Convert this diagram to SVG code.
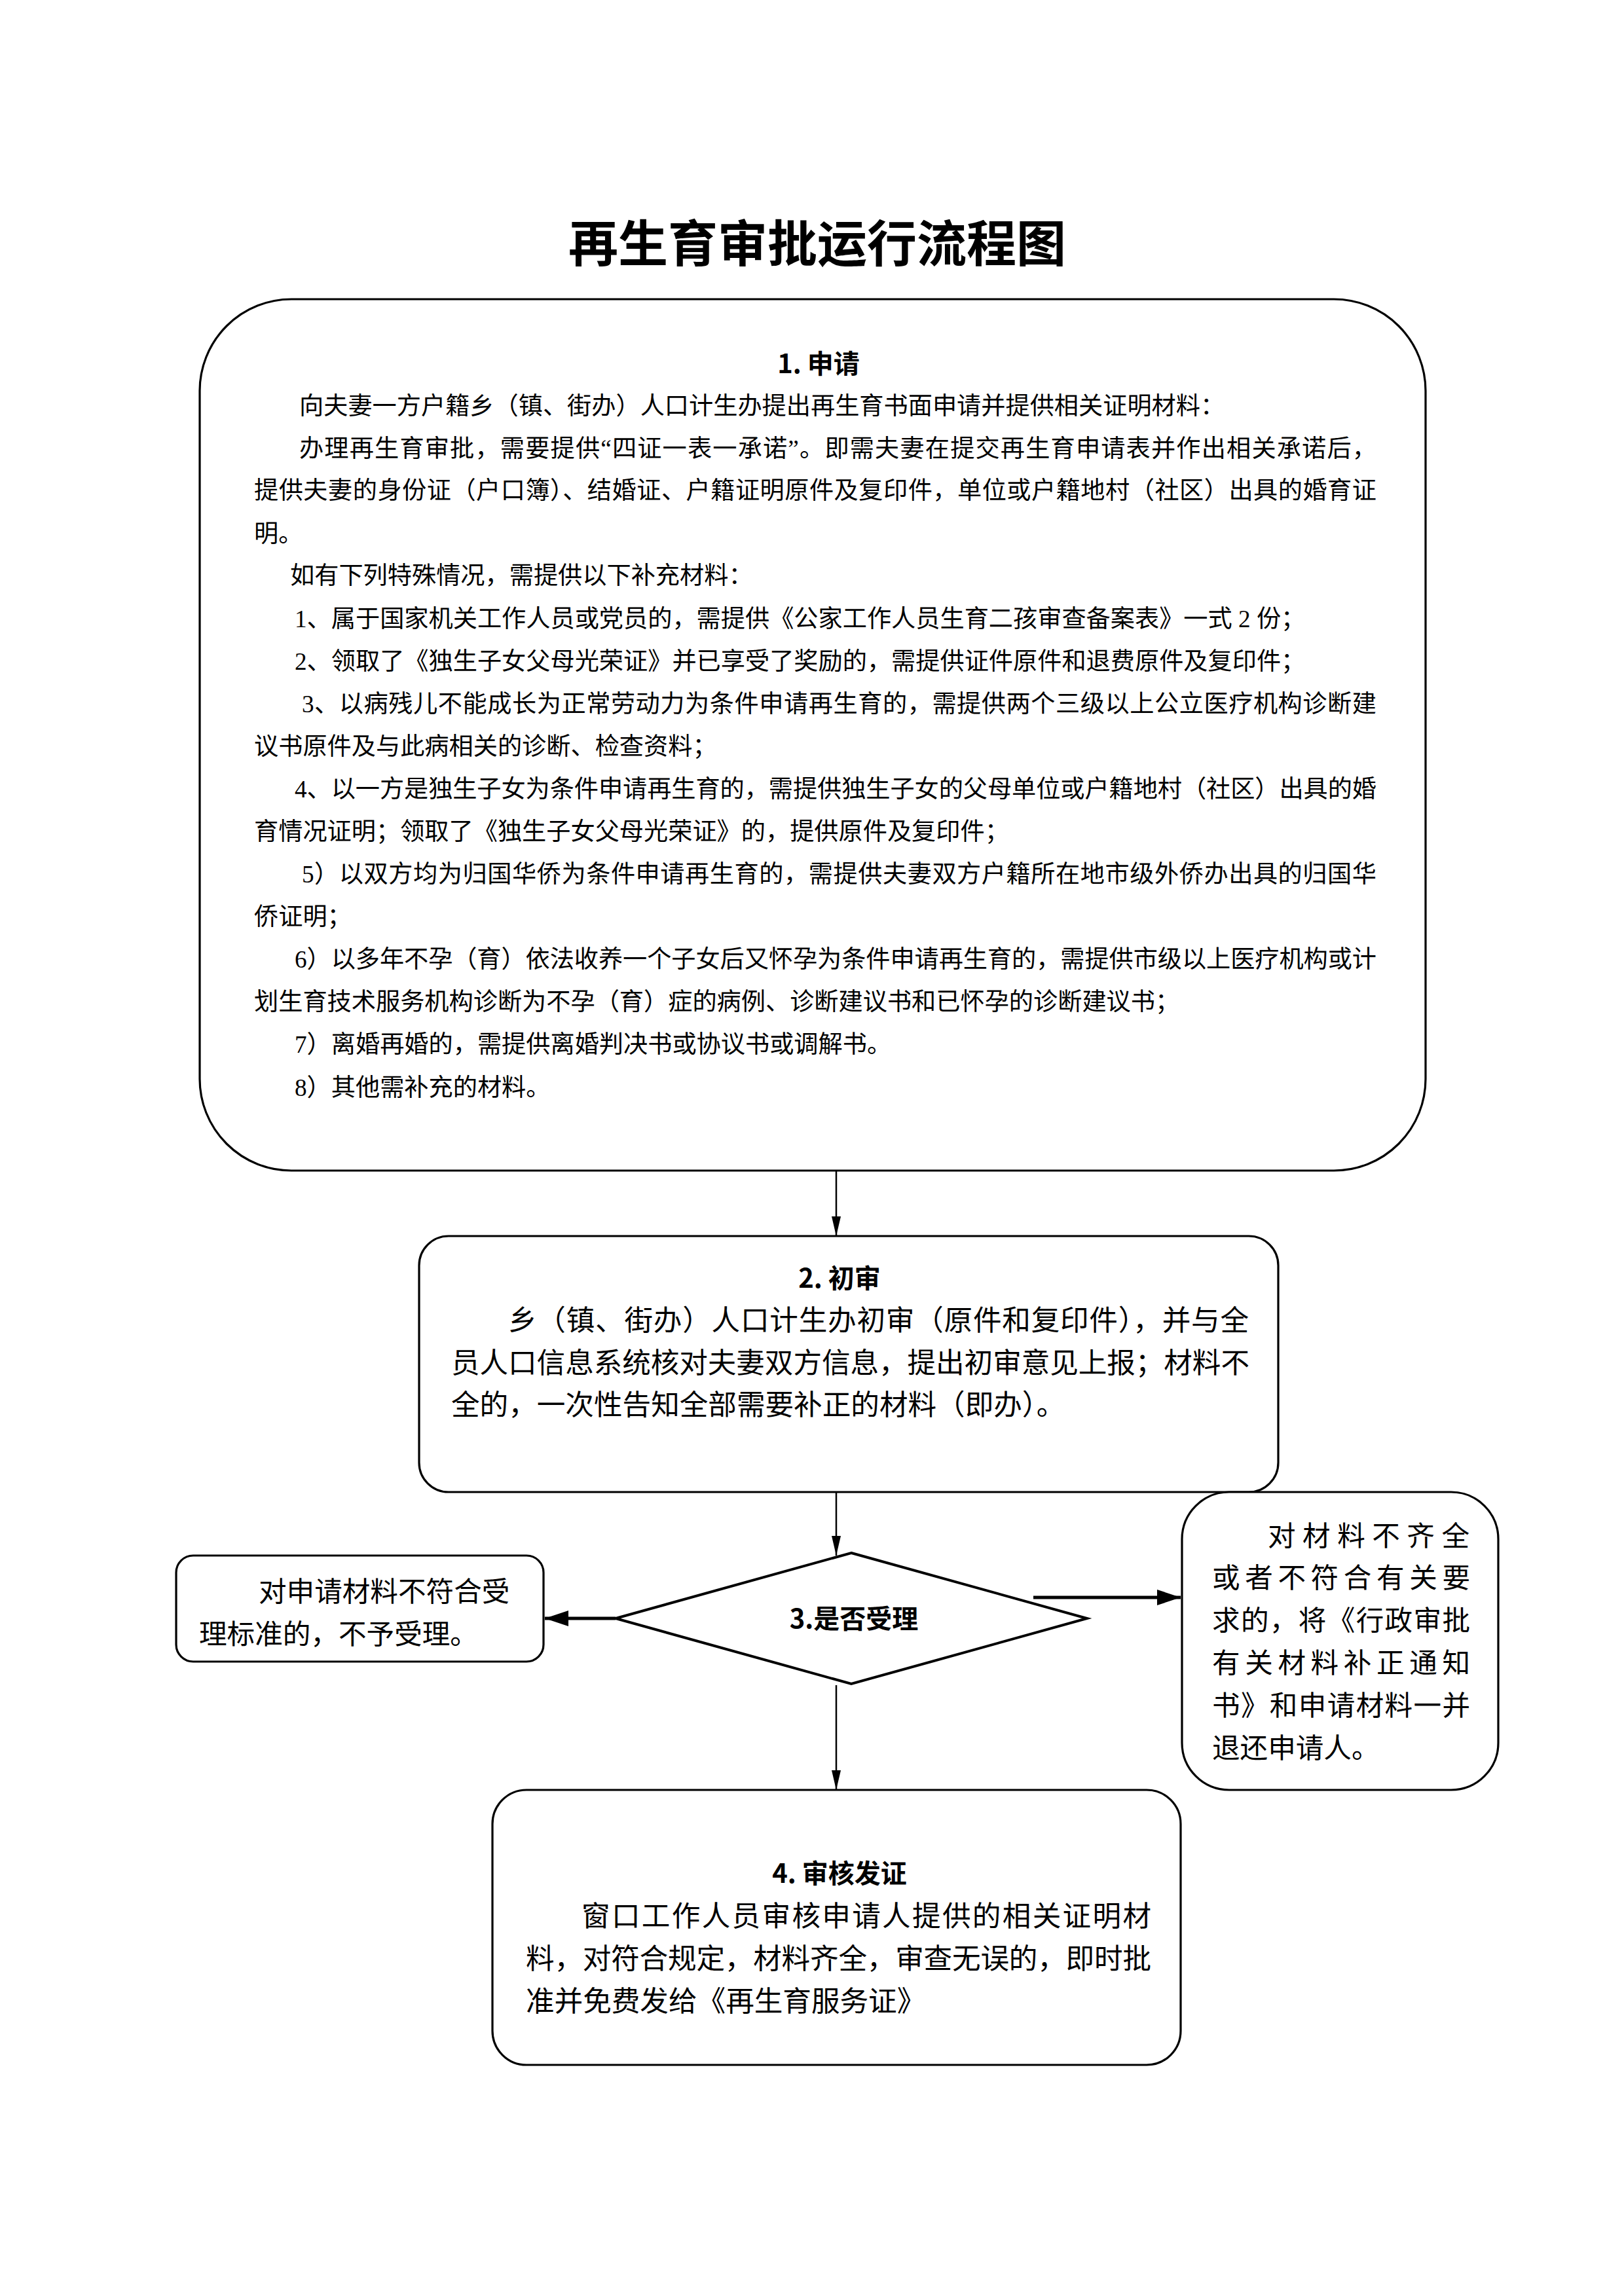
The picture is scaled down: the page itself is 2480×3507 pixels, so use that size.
<svg xmlns="http://www.w3.org/2000/svg" width="2480" height="3507" viewBox="0 0 2480 3507">
<defs>
<style>
.box{fill:#fff;stroke:#000;stroke-width:3.2}
.ln{fill:none;stroke:#000;stroke-width:2.5}
.lnb{fill:none;stroke:#000;stroke-width:5}
.t{font-family:"Liberation Serif","Noto Sans CJK SC",serif;font-size:37.2px;fill:#000}
.m{font-family:"Liberation Serif","Noto Sans CJK SC",serif;font-size:43.6px;fill:#000}
.s{font-family:"Liberation Serif","Noto Sans CJK SC",serif;font-size:42.6px;fill:#000}
.h{font-family:"Noto Sans CJK SC",sans-serif;font-weight:bold;font-size:40px;text-anchor:middle;fill:#000}
.title{font-family:"Noto Sans CJK SC",sans-serif;font-weight:bold;font-size:76px;text-anchor:middle;fill:#000}
</style>
<marker id="arr" viewBox="0 0 30 14" refX="30" refY="7" markerWidth="30" markerHeight="14" markerUnits="userSpaceOnUse" orient="auto">
<path d="M0,0 L30,7 L0,14 Z" fill="#000"/>
</marker>
<marker id="arrb" viewBox="0 0 36 24" refX="36" refY="12" markerWidth="36" markerHeight="24" markerUnits="userSpaceOnUse" orient="auto">
<path d="M0,0 L36,12 L0,24 Z" fill="#000"/>
</marker>
</defs>
<rect x="0" y="0" width="2480" height="3507" fill="#fff"/>

<text id="title" class="title" x="1248" y="400">再生育审批运行流程图</text>

<g id="connectors">
<path class="ln" d="M1277 1788 V1888" marker-end="url(#arr)"/>
<path class="ln" d="M1277 2279 V2376" marker-end="url(#arr)"/>
<path class="ln" d="M1277 2574 V2734" marker-end="url(#arr)"/>
<path class="lnb" d="M940 2472 H832" marker-end="url(#arrb)"/>
<path class="lnb" d="M1578 2440 H1803" marker-end="url(#arrb)"/>
</g>

<g id="node-1">
<rect class="box" x="305" y="457" width="1872" height="1331" rx="140" ry="140"/>
<text class="h" x="1250" y="570">1. 申请</text>
<text class="t" x="457" y="633">向夫妻一方户籍乡（镇、街办）人口计生办提出再生育书面申请并提供相关证明材料：</text>
<text class="t" x="457" y="698" textLength="1645" lengthAdjust="spacing">办理再生育审批，需要提供“四证一表一承诺”。即需夫妻在提交再生育申请表并作出相关承诺后，</text>
<text class="t" x="388" y="762" textLength="1714" lengthAdjust="spacing">提供夫妻的身份证（户口簿）、结婚证、户籍证明原件及复印件，单位或户籍地村（社区）出具的婚育证</text>
<text class="t" x="388" y="828">明。</text>
<text class="t" x="443" y="892">如有下列特殊情况，需提供以下补充材料：</text>
<text class="t" x="450" y="958">1、属于国家机关工作人员或党员的，需提供《公家工作人员生育二孩审查备案表》一式 2 份；</text>
<text class="t" x="450" y="1023">2、领取了《独生子女父母光荣证》并已享受了奖励的，需提供证件原件和退费原件及复印件；</text>
<text class="t" x="461" y="1088" textLength="1641" lengthAdjust="spacing">3、以病残儿不能成长为正常劳动力为条件申请再生育的，需提供两个三级以上公立医疗机构诊断建</text>
<text class="t" x="388" y="1153">议书原件及与此病相关的诊断、检查资料；</text>
<text class="t" x="450" y="1218" textLength="1652" lengthAdjust="spacing">4、以一方是独生子女为条件申请再生育的，需提供独生子女的父母单位或户籍地村（社区）出具的婚</text>
<text class="t" x="388" y="1283">育情况证明；领取了《独生子女父母光荣证》的，提供原件及复印件；</text>
<text class="t" x="461" y="1348" textLength="1641" lengthAdjust="spacing">5）以双方均为归国华侨为条件申请再生育的，需提供夫妻双方户籍所在地市级外侨办出具的归国华</text>
<text class="t" x="388" y="1413">侨证明；</text>
<text class="t" x="450" y="1478" textLength="1652" lengthAdjust="spacing">6）以多年不孕（育）依法收养一个子女后又怀孕为条件申请再生育的，需提供市级以上医疗机构或计</text>
<text class="t" x="388" y="1543">划生育技术服务机构诊断为不孕（育）症的病例、诊断建议书和已怀孕的诊断建议书；</text>
<text class="t" x="450" y="1608">7）离婚再婚的，需提供离婚判决书或协议书或调解书。</text>
<text class="t" x="450" y="1674">8）其他需补充的材料。</text>
</g>

<g id="node-2">
<rect class="box" x="640" y="1888" width="1312" height="391" rx="45" ry="45"/>
<text class="h" x="1282" y="1967">2. 初审</text>
<text class="m" x="776" y="2032" textLength="1131" lengthAdjust="spacing">乡（镇、街办）人口计生办初审（原件和复印件），并与全</text>
<text class="m" x="689" y="2097" textLength="1219" lengthAdjust="spacing">员人口信息系统核对夫妻双方信息，提出初审意见上报；材料不</text>
<text class="m" x="689" y="2161">全的，一次性告知全部需要补正的材料（即办）。</text>
</g>

<g id="node-3">
<polygon points="1300,2372 1660,2472 1300,2572 940,2472" fill="#fff" stroke="#000" stroke-width="4"/>
<text class="h" x="1304" y="2487">3.是否受理</text>
</g>

<g id="node-left">
<rect class="box" x="269" y="2376" width="561" height="162" rx="26" ry="26"/>
<text class="s" x="395" y="2446">对申请材料不符合受</text>
<text class="s" x="304" y="2511">理标准的，不予受理。</text>
</g>

<g id="node-right">
<rect class="box" x="1805" y="2279" width="483" height="455" rx="72" ry="72"/>
<text class="s" x="1936" y="2361" textLength="308" lengthAdjust="spacing">对材料不齐全</text>
<text class="s" x="1851" y="2425" textLength="394" lengthAdjust="spacing">或者不符合有关要</text>
<text class="s" x="1851" y="2490" textLength="394" lengthAdjust="spacing">求的，将《行政审批</text>
<text class="s" x="1851" y="2555" textLength="394" lengthAdjust="spacing">有关材料补正通知</text>
<text class="s" x="1851" y="2620" textLength="394" lengthAdjust="spacing">书》和申请材料一并</text>
<text class="s" x="1851" y="2685">退还申请人。</text>
</g>

<g id="node-4">
<rect class="box" x="752" y="2734" width="1051" height="420" rx="52" ry="52"/>
<text class="h" x="1282" y="2876">4. 审核发证</text>
<text class="m" x="888" y="2942" textLength="870" lengthAdjust="spacing">窗口工作人员审核申请人提供的相关证明材</text>
<text class="m" x="803" y="3007" textLength="955" lengthAdjust="spacing">料，对符合规定，材料齐全，审查无误的，即时批</text>
<text class="m" x="803" y="3072">准并免费发给《再生育服务证》</text>
</g>
</svg>
